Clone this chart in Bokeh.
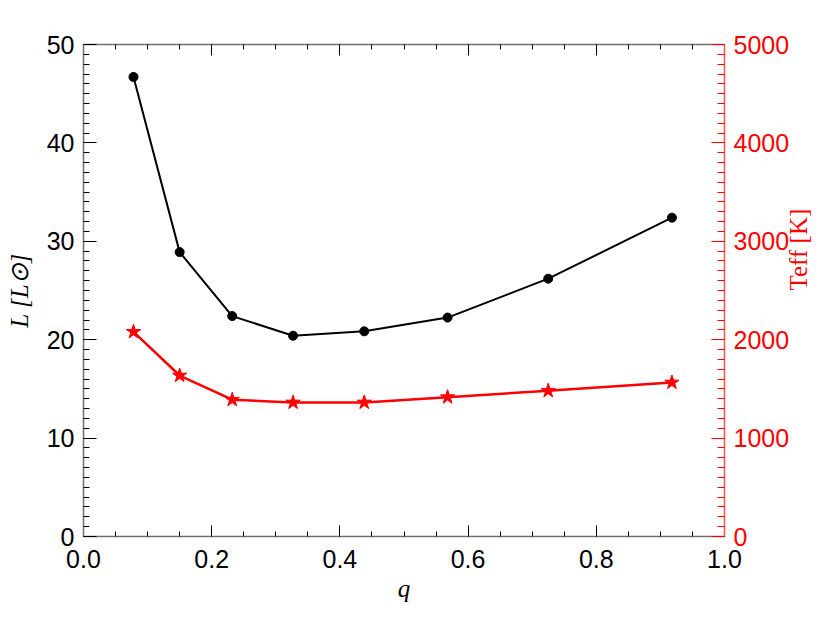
import math
from bokeh.plotting import figure
from bokeh.models import LinearAxis, Range1d, SingleIntervalTicker
from bokeh.embed import file_html
from bokeh.resources import INLINE

# data
q = [0.078, 0.150, 0.232, 0.327, 0.438, 0.568, 0.725, 0.918]
lum = [46.7, 28.9, 22.4, 20.4, 20.85, 22.25, 26.2, 32.4]
teff = [2080, 1636, 1390, 1362, 1362, 1416, 1481, 1565]

x_label = "q"
l_label = "L [L\u2299]"
t_label = "Teff [K]"

RED = "#ff0000"
SPINE = "#6f6f6f"
TICKFONT = "Liberation Sans"
SERIF = "Liberation Serif"

W, H = 828, 620
FL, FR, FT, FB = 83, 727, 44, 536

p = figure(width=W, height=H, output_backend="svg", toolbar_location=None,
           x_range=Range1d(0, 1), y_range=Range1d(0, 50),
           min_border_left=FL, min_border_right=W - FR, min_border_top=FT,
           min_border_bottom=H - FB, x_axis_location=None, y_axis_location=None)
p.outline_line_color = None
p.xgrid.visible = False
p.ygrid.visible = False
p.extra_y_ranges = {"teff": Range1d(0, 5000)}


def style(ax, color, major, minor, labels=True):
    ax.axis_line_color = color if color != "black" else SPINE
    ax.axis_line_width = 1.5
    ax.major_tick_line_color = color
    ax.minor_tick_line_color = color
    ax.major_tick_in = major
    ax.major_tick_out = 0
    ax.minor_tick_in = minor
    ax.minor_tick_out = 0
    ax.major_label_text_font = TICKFONT
    ax.major_label_text_font_size = "25px"
    ax.major_label_text_color = color
    ax.major_label_standoff = 9
    ax.axis_label_text_font = SERIF
    ax.axis_label_text_font_size = "25px"
    ax.axis_label_text_color = color
    if not labels:
        ax.major_label_text_alpha = 0


xb = LinearAxis(ticker=SingleIntervalTicker(interval=0.2, num_minor_ticks=4))
style(xb, "black", 11, 5)
xb.major_label_standoff = 13
xb.major_label_overrides = {0: "0.0", 1: "1.0"}
xb.axis_label = x_label
xb.axis_label_text_font_style = "italic"
xb.axis_label_standoff = 4
p.add_layout(xb, "below")

xt = LinearAxis(ticker=SingleIntervalTicker(interval=0.2, num_minor_ticks=4))
style(xt, "black", 11, 5, labels=False)
xt.major_label_standoff = 0
xt.major_label_text_font_size = "1px"
p.add_layout(xt, "above")

yl = LinearAxis(ticker=SingleIntervalTicker(interval=10, num_minor_ticks=10))
style(yl, "black", 13, 6)
yl.axis_label = l_label
yl.axis_label_text_font_style = "italic"
yl.axis_label_standoff = 11
p.add_layout(yl, "left")

yr = LinearAxis(y_range_name="teff",
                ticker=SingleIntervalTicker(interval=1000, num_minor_ticks=10))
style(yr, RED, 13, 7)
yr.axis_line_color = "#ff5050"
yr.axis_label = t_label
yr.axis_label_text_font_style = "normal"
yr.axis_label_orientation = math.pi / 2
yr.axis_label_text_align = "center"
yr.axis_label_text_baseline = "middle"
yr.axis_label_standoff = 6
p.add_layout(yr, "right")

# series
p.line(q, lum, line_color="black", line_width=2)
p.scatter(q, lum, marker="circle", size=9, fill_color="black", line_color="black")
p.line(q, teff, line_color=RED, line_width=2.5, y_range_name="teff")
p.scatter(q, teff, marker="star", size=15, fill_color=RED, line_color=RED,
          y_range_name="teff")

open("out.html", "w").write(file_html(p, INLINE))
